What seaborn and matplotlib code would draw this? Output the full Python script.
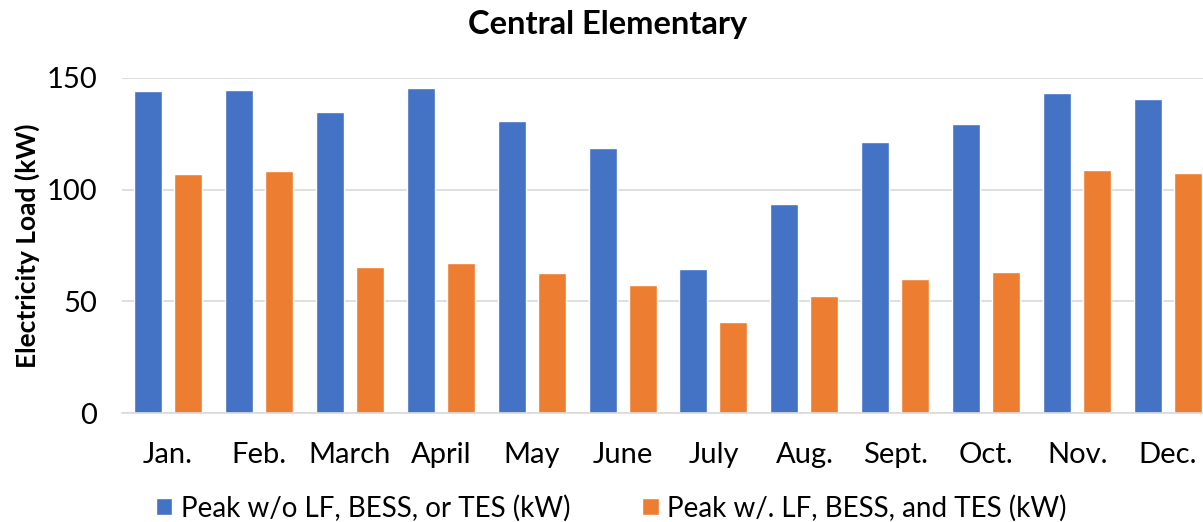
import pandas as pd
import numpy as np
import matplotlib
matplotlib.use("Agg")
import matplotlib.pyplot as plt
import seaborn as sns

# dados
meses = ['Jan.', 'Feb.', 'March', 'April', 'May', 'June', 'July', 'Aug.',
         'Sept.', 'Oct.', 'Nov.', 'Dec.']
pico_sem = [144.0, 144.6, 134.7, 145.4, 130.7, 118.6, 64.3, 93.8, 121.4, 129.2, 143.3, 140.6]
pico_com = [107.0, 108.2, 65.2, 67.0, 62.9, 57.3, 40.8, 52.4, 60.1, 63.1, 108.6, 107.6]
serie_sem = 'Peak w/o LF, BESS, or TES (kW)'
serie_com = 'Peak w/. LF, BESS, and TES (kW)'

dados = pd.DataFrame({
    'mes': meses * 2,
    'valor': pico_sem + pico_com,
    'serie': [serie_sem] * len(meses) + [serie_com] * len(meses),
})

sns.set_style("white")
plt.rcParams['font.family'] = ['Lato', 'DejaVu Sans']
plt.rcParams['text.color'] = 'black'
plt.rcParams['axes.labelcolor'] = 'black'

fig = plt.figure(figsize=(12.03, 5.22), dpi=100)
# o gráfico original é cortado na direita
ax = fig.add_axes([0.1018, 0.2088, 0.907, 0.6418])

sns.barplot(data=dados, x='mes', y='valor', hue='serie', ax=ax,
            palette=['#4472C4', '#ED7D31'], width=0.88, gap=0.3,
            saturation=1, errorbar=None)

ax.set_ylim(0, 150)
ax.set_yticks([0, 50, 100, 150])
ax.set_xlim(-0.5, 11.5)
ax.yaxis.grid(True, color='#D9D9D9', linewidth=1.2)
ax.set_axisbelow(True)
for lado in ['top', 'right', 'left']:
    ax.spines[lado].set_visible(False)
ax.spines['bottom'].set_color('#D9D9D9')
ax.spines['bottom'].set_linewidth(1.2)
ax.tick_params(axis='both', length=0, labelsize=21, colors='black')
ax.tick_params(axis='x', pad=21)
ax.tick_params(axis='y', pad=18)

ax.set_xlabel('')
ax.set_ylabel('Electricity Load (kW)', fontsize=19, fontweight='bold', labelpad=5,
              color='black')
fig.suptitle('Central Elementary', fontsize=23.5, fontweight='bold', color='black',
             x=0.505, y=1 - 34 / 522, va='baseline')

ax.legend(loc='center', bbox_to_anchor=(0.508, 0.027), bbox_transform=fig.transFigure,
          ncol=2, frameon=False, fontsize=20, handlelength=0.6, handleheight=0.6,
          handletextpad=0.3, columnspacing=2.6, borderpad=0, borderaxespad=0,
          labelcolor='black')

fig.savefig('out.png', dpi=100)
